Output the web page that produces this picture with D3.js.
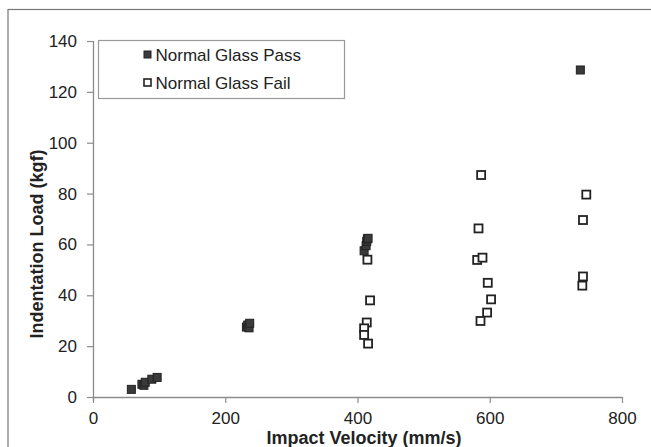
<!DOCTYPE html>
<html>
<head>
<meta charset="utf-8">
<script src="https://cdn.jsdelivr.net/npm/d3@7/dist/d3.min.js"></script>
<style>
  html, body { margin: 0; padding: 0; background: #fff; }
  svg { display: block; }
  text { font-family: "Liberation Sans", Arial, sans-serif; }
</style>
</head>
<body>
<svg id="chart" width="651" height="447"></svg>
<script>
// ---- Data ----
const seriesNames = ["Normal Glass Pass", "Normal Glass Fail"];
const passVelocity = [58, 74, 77, 79, 89, 97, 232, 234, 236, 237, 410, 413, 414, 415, 416, 737];
const passLoad     = [3.0, 5.0, 4.6, 5.8, 7.0, 7.7, 27.5, 28.3, 27.2, 29.0, 57.5, 59.5, 61.2, 62.2, 62.4, 128.6];
const failVelocity = [415, 419, 414, 410, 410, 416, 587, 583, 581, 589, 597, 602, 596, 586, 746, 741, 741, 740];
const failLoad     = [54.0, 38.0, 29.3, 27.0, 24.4, 21.0, 87.3, 66.3, 53.9, 54.8, 44.9, 38.4, 33.2, 29.9, 79.6, 69.6, 47.4, 43.8];
const xTicks = [0, 200, 400, 600, 800];
const yTicks = [0, 20, 40, 60, 80, 100, 120, 140];
const xTitle = "Impact Velocity (mm/s)";
const yTitle = "Indentation Load (kgf)";

const svg = d3.select("#chart");

// outer frame
svg.append("rect").attr("x", 8).attr("y", 9.5).attr("width", 700).attr("height", 500)
  .attr("fill", "none").attr("stroke", "#777").attr("stroke-width", 1.2);

const x = d3.scaleLinear().domain([0, 800]).range([93, 622]);
const y = d3.scaleLinear().domain([0, 140]).range([397, 41]);

const axisColor = "#8c8c8c";

const xAxis = svg.append("g").attr("transform", "translate(0,397)")
  .call(d3.axisBottom(x).tickValues(xTicks).tickFormat(d3.format("d")).tickSize(6).tickPadding(9).tickSizeOuter(0));
const yAxis = svg.append("g").attr("transform", "translate(93,0)")
  .call(d3.axisLeft(y).tickValues(yTicks).tickFormat(d3.format("d")).tickSize(6).tickPadding(10).tickSizeOuter(0));

[xAxis, yAxis].forEach(g => {
  g.select(".domain").attr("stroke", axisColor).attr("stroke-width", 1.3);
  g.selectAll(".tick line").attr("stroke", axisColor).attr("stroke-width", 1.2);
  g.selectAll(".tick text").attr("fill", "#222").style("font-size", "17px")
    .style("font-family", "'Liberation Sans', Arial, sans-serif");
});
// extend y axis slightly below x axis
yAxis.select(".domain").attr("d", "M0.5,41V401");

// titles
svg.append("text").attr("x", 364).attr("y", 444).attr("text-anchor", "middle")
  .style("font-size", "18px").style("font-weight", "bold").attr("fill", "#222").text(xTitle);
svg.append("text").attr("transform", "translate(43,244) rotate(-90)").attr("text-anchor", "middle")
  .style("font-size", "18px").style("font-weight", "bold").attr("fill", "#222").text(yTitle);

// points
const pass = passVelocity.map((v, i) => ({ v, l: passLoad[i] }));
const fail = failVelocity.map((v, i) => ({ v, l: failLoad[i] }));
const s = 8;

svg.append("g").selectAll("rect").data(fail).join("rect")
  .attr("x", d => x(d.v) - s / 2).attr("y", d => y(d.l) - s / 2)
  .attr("width", s).attr("height", s)
  .attr("fill", "#fff").attr("stroke", "#222").attr("stroke-width", 1.8);

svg.append("g").selectAll("rect").data(pass).join("rect")
  .attr("x", d => x(d.v) - s / 2).attr("y", d => y(d.l) - s / 2)
  .attr("width", s).attr("height", s)
  .attr("fill", "#3a3a3a").attr("stroke", "#222").attr("stroke-width", 1);

// legend
const lg = svg.append("g");
lg.append("rect").attr("x", 98.5).attr("y", 40.5).attr("width", 246).attr("height", 58)
  .attr("fill", "#fff").attr("stroke", "#999").attr("stroke-width", 1.2);
const ly = [54.5, 82.5];
const ls = 7;
lg.append("rect").attr("x", 147.5 - ls / 2).attr("y", ly[0] - ls / 2).attr("width", ls).attr("height", ls)
  .attr("fill", "#3a3a3a").attr("stroke", "#222").attr("stroke-width", 1);
lg.append("rect").attr("x", 147.5 - ls / 2).attr("y", ly[1] - ls / 2).attr("width", ls).attr("height", ls)
  .attr("fill", "#fff").attr("stroke", "#222").attr("stroke-width", 1.6);
seriesNames.forEach((n, i) => {
  lg.append("text").attr("x", 155.5).attr("y", ly[i]).attr("dy", "0.36em")
    .style("font-size", "17px").attr("fill", "#222").text(n);
});
</script>
</body>
</html>
